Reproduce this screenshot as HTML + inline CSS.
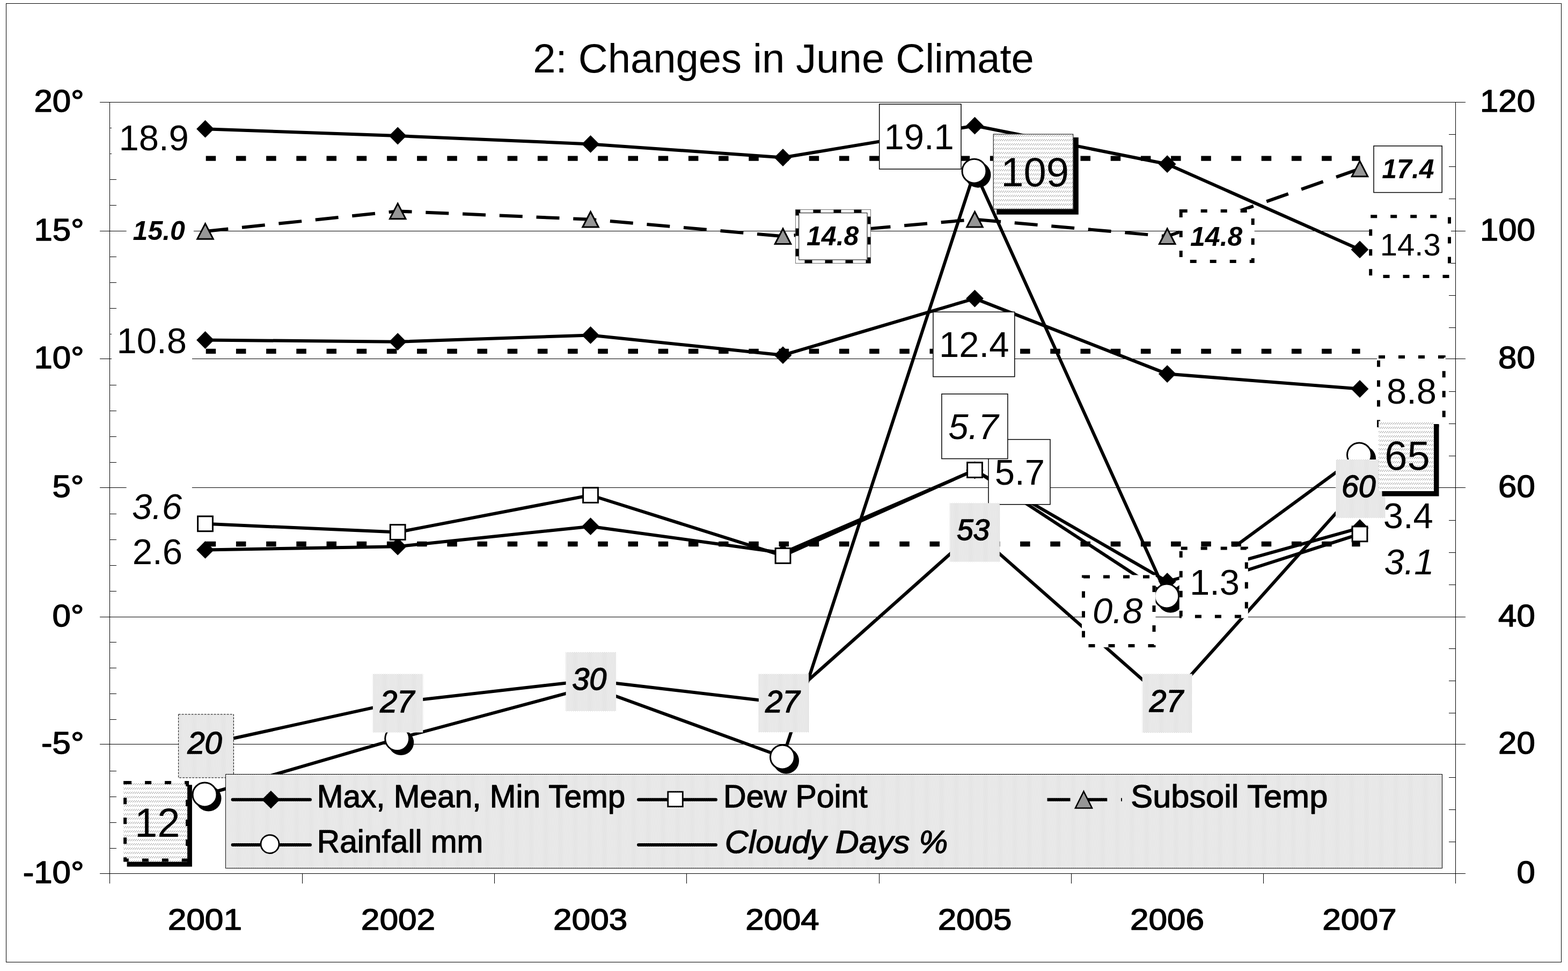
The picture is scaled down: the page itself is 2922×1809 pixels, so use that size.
<!DOCTYPE html>
<html><head><meta charset="utf-8"><title>2: Changes in June Climate</title>
<style>html,body{margin:0;padding:0;background:#fff;}body{width:2922px;height:1809px;overflow:hidden;}svg{display:block;}</style>
</head><body>
<svg xmlns="http://www.w3.org/2000/svg" width="2922" height="1809" viewBox="0 0 2922 1809" font-family="'Liberation Sans', Arial, sans-serif">
<defs>
<pattern id="dots" patternUnits="userSpaceOnUse" x="0" y="0" width="4" height="2"><rect width="4" height="2" fill="#fff"/><rect x="0" y="0" width="1" height="1" fill="#a4a4a4"/><rect x="2" y="1" width="1" height="1" fill="#a4a4a4"/></pattern>
<pattern id="hatch" patternUnits="userSpaceOnUse" x="0" y="0" width="4" height="8"><rect width="4" height="8" fill="#fff"/><rect x="2" y="3" width="1" height="1" fill="#8c8c8c"/><rect x="1" y="4" width="1" height="1" fill="#8c8c8c"/><rect x="0" y="5" width="1" height="1" fill="#8c8c8c"/><rect x="3" y="6" width="1" height="1" fill="#8c8c8c"/></pattern>
</defs>
<rect x="0" y="0" width="2922" height="1809" fill="#fff"/>
<rect x="11.5" y="6.5" width="2898" height="1786" fill="none" stroke="#000" stroke-width="1" shape-rendering="crispEdges"/>
<text x="993.25" y="134.9" font-size="76">2: Changes in June Climate</text>
<g stroke="#000" stroke-width="1" fill="none" shape-rendering="crispEdges">
<line x1="186" y1="190.5" x2="2731" y2="190.5"/>
<line x1="186" y1="430.5" x2="2731" y2="430.5"/>
<line x1="186" y1="668.5" x2="2731" y2="668.5"/>
<line x1="186" y1="908.5" x2="2731" y2="908.5"/>
<line x1="186" y1="1149.5" x2="2731" y2="1149.5"/>
<line x1="186" y1="1386.5" x2="2731" y2="1386.5"/>
<line x1="186" y1="1627.5" x2="2731" y2="1627.5"/>
<line x1="204.5" y1="190.5" x2="204.5" y2="1646"/>
<line x1="2712.5" y1="190.5" x2="2712.5" y2="1646"/>
<line x1="563.5" y1="1627.5" x2="563.5" y2="1646"/>
<line x1="921.5" y1="1627.5" x2="921.5" y2="1646"/>
<line x1="1279.5" y1="1627.5" x2="1279.5" y2="1646"/>
<line x1="1638.5" y1="1627.5" x2="1638.5" y2="1646"/>
<line x1="1996.5" y1="1627.5" x2="1996.5" y2="1646"/>
<line x1="2354.5" y1="1627.5" x2="2354.5" y2="1646"/>
<line x1="204.5" y1="238.5" x2="217" y2="238.5"/>
<line x1="204.5" y1="286.5" x2="217" y2="286.5"/>
<line x1="204.5" y1="334.5" x2="217" y2="334.5"/>
<line x1="204.5" y1="382.5" x2="217" y2="382.5"/>
<line x1="204.5" y1="478.5" x2="217" y2="478.5"/>
<line x1="204.5" y1="526.5" x2="217" y2="526.5"/>
<line x1="204.5" y1="574.5" x2="217" y2="574.5"/>
<line x1="204.5" y1="622.5" x2="217" y2="622.5"/>
<line x1="204.5" y1="717.5" x2="217" y2="717.5"/>
<line x1="204.5" y1="765.5" x2="217" y2="765.5"/>
<line x1="204.5" y1="813.5" x2="217" y2="813.5"/>
<line x1="204.5" y1="861.5" x2="217" y2="861.5"/>
<line x1="204.5" y1="957.5" x2="217" y2="957.5"/>
<line x1="204.5" y1="1005.5" x2="217" y2="1005.5"/>
<line x1="204.5" y1="1053.5" x2="217" y2="1053.5"/>
<line x1="204.5" y1="1101.5" x2="217" y2="1101.5"/>
<line x1="204.5" y1="1196.5" x2="217" y2="1196.5"/>
<line x1="204.5" y1="1244.5" x2="217" y2="1244.5"/>
<line x1="204.5" y1="1292.5" x2="217" y2="1292.5"/>
<line x1="204.5" y1="1340.5" x2="217" y2="1340.5"/>
<line x1="204.5" y1="1436.5" x2="217" y2="1436.5"/>
<line x1="204.5" y1="1484.5" x2="217" y2="1484.5"/>
<line x1="204.5" y1="1532.5" x2="217" y2="1532.5"/>
<line x1="204.5" y1="1580.5" x2="217" y2="1580.5"/>
<line x1="2700" y1="1568.5" x2="2712.5" y2="1568.5"/>
<line x1="2700" y1="1508.5" x2="2712.5" y2="1508.5"/>
<line x1="2700" y1="1448.5" x2="2712.5" y2="1448.5"/>
<line x1="2700" y1="1328.5" x2="2712.5" y2="1328.5"/>
<line x1="2700" y1="1268.5" x2="2712.5" y2="1268.5"/>
<line x1="2700" y1="1208.5" x2="2712.5" y2="1208.5"/>
<line x1="2700" y1="1089.5" x2="2712.5" y2="1089.5"/>
<line x1="2700" y1="1029.5" x2="2712.5" y2="1029.5"/>
<line x1="2700" y1="969.5" x2="2712.5" y2="969.5"/>
<line x1="2700" y1="849.5" x2="2712.5" y2="849.5"/>
<line x1="2700" y1="789.5" x2="2712.5" y2="789.5"/>
<line x1="2700" y1="729.5" x2="2712.5" y2="729.5"/>
<line x1="2700" y1="610.5" x2="2712.5" y2="610.5"/>
<line x1="2700" y1="550.5" x2="2712.5" y2="550.5"/>
<line x1="2700" y1="490.5" x2="2712.5" y2="490.5"/>
<line x1="2700" y1="370.5" x2="2712.5" y2="370.5"/>
<line x1="2700" y1="310.5" x2="2712.5" y2="310.5"/>
<line x1="2700" y1="250.5" x2="2712.5" y2="250.5"/>
</g>
<text transform="translate(63.42,208.05) scale(1.09,1)" font-size="56.61" stroke="#000" stroke-width="1.4" stroke-linejoin="round">20°</text>
<text transform="translate(63.42,448.05) scale(1.09,1)" font-size="56.61" stroke="#000" stroke-width="1.4" stroke-linejoin="round">15°</text>
<text transform="translate(63.42,686.05) scale(1.09,1)" font-size="56.61" stroke="#000" stroke-width="1.4" stroke-linejoin="round">10°</text>
<text transform="translate(97.48,926.05) scale(1.09,1)" font-size="56.61" stroke="#000" stroke-width="1.4" stroke-linejoin="round">5°</text>
<text transform="translate(97.48,1167.05) scale(1.09,1)" font-size="56.61" stroke="#000" stroke-width="1.4" stroke-linejoin="round">0°</text>
<text transform="translate(77.04,1404.05) scale(1.09,1)" font-size="56.61" stroke="#000" stroke-width="1.4" stroke-linejoin="round">-5°</text>
<text transform="translate(42.71,1645.05) scale(1.09,1)" font-size="56.61" stroke="#000" stroke-width="1.4" stroke-linejoin="round">-10°</text>
<text transform="translate(2758.02,208.05) scale(1.09,1)" font-size="56.61" stroke="#000" stroke-width="1.4" stroke-linejoin="round">120</text>
<text transform="translate(2758.02,448.05) scale(1.09,1)" font-size="56.61" stroke="#000" stroke-width="1.4" stroke-linejoin="round">100</text>
<text transform="translate(2792.08,686.05) scale(1.09,1)" font-size="56.61" stroke="#000" stroke-width="1.4" stroke-linejoin="round">80</text>
<text transform="translate(2792.08,926.05) scale(1.09,1)" font-size="56.61" stroke="#000" stroke-width="1.4" stroke-linejoin="round">60</text>
<text transform="translate(2792.08,1167.05) scale(1.09,1)" font-size="56.61" stroke="#000" stroke-width="1.4" stroke-linejoin="round">40</text>
<text transform="translate(2792.08,1404.05) scale(1.09,1)" font-size="56.61" stroke="#000" stroke-width="1.4" stroke-linejoin="round">20</text>
<text transform="translate(2826.42,1645.05) scale(1.09,1)" font-size="56.61" stroke="#000" stroke-width="1.4" stroke-linejoin="round">0</text>
<text transform="translate(672.76,1731.85) scale(1.1156,1)" font-size="55.8" stroke="#000" stroke-width="1.4" stroke-linejoin="round">2002</text>
<text transform="translate(1031.05,1731.85) scale(1.1133,1)" font-size="55.8" stroke="#000" stroke-width="1.4" stroke-linejoin="round">2003</text>
<text transform="translate(1389.36,1731.85) scale(1.1063,1)" font-size="55.8" stroke="#000" stroke-width="1.4" stroke-linejoin="round">2004</text>
<text transform="translate(1747.63,1731.85) scale(1.1109,1)" font-size="55.8" stroke="#000" stroke-width="1.4" stroke-linejoin="round">2005</text>
<text transform="translate(2105.91,1731.85) scale(1.1133,1)" font-size="55.8" stroke="#000" stroke-width="1.4" stroke-linejoin="round">2006</text>
<text transform="translate(2464.19,1731.85) scale(1.1156,1)" font-size="55.8" stroke="#000" stroke-width="1.4" stroke-linejoin="round">2007</text>
<text transform="translate(312.63,1731.85) scale(1.1156,1)" font-size="55.8" stroke="#000" stroke-width="1.4" stroke-linejoin="round">2001</text>
<g stroke="#000" stroke-width="9.3" fill="none" stroke-dasharray="18.5 37.7">
<line x1="383.7" y1="295.2" x2="2534.6" y2="295.2"/>
<line x1="383.7" y1="654.4" x2="2534.6" y2="654.4"/>
<line x1="383.7" y1="1013.5" x2="2534.6" y2="1013.5"/>
</g>
<g fill="none" stroke="#000" stroke-width="6" stroke-linejoin="round">
<polyline points="382.5,240.2 741.2,253.0 1100.5,268.4 1459.0,293.5 1816.5,234.2 2175.2,305.7 2534.0,464.9"/>
<polyline points="382.5,633.5 741.2,636.7 1100.5,624.4 1459.0,661.7 1816.5,556.1 2175.2,696.6 2534.0,724.5"/>
<polyline points="382.5,1024.4 741.2,1018.2 1100.5,980.7 1459.0,1030.0 1816.5,876.0 2175.2,1083.4 2534.0,983.7"/>
</g>
<polygon points="382.5,223.79999999999998 398.9,240.2 382.5,256.59999999999997 366.1,240.2" fill="#000"/>
<polygon points="741.2,236.6 757.6,253.0 741.2,269.4 724.8000000000001,253.0" fill="#000"/>
<polygon points="1100.5,251.99999999999997 1116.9,268.4 1100.5,284.79999999999995 1084.1,268.4" fill="#000"/>
<polygon points="1459.0,277.1 1475.4,293.5 1459.0,309.9 1442.6,293.5" fill="#000"/>
<polygon points="1816.5,217.79999999999998 1832.9,234.2 1816.5,250.6 1800.1,234.2" fill="#000"/>
<polygon points="2175.2,289.3 2191.6,305.7 2175.2,322.09999999999997 2158.7999999999997,305.7" fill="#000"/>
<polygon points="2534.0,448.5 2550.4,464.9 2534.0,481.29999999999995 2517.6,464.9" fill="#000"/>
<polygon points="382.5,617.1 398.9,633.5 382.5,649.9 366.1,633.5" fill="#000"/>
<polygon points="741.2,620.3000000000001 757.6,636.7 741.2,653.1 724.8000000000001,636.7" fill="#000"/>
<polygon points="1100.5,608.0 1116.9,624.4 1100.5,640.8 1084.1,624.4" fill="#000"/>
<polygon points="1459.0,645.3000000000001 1475.4,661.7 1459.0,678.1 1442.6,661.7" fill="#000"/>
<polygon points="1816.5,539.7 1832.9,556.1 1816.5,572.5 1800.1,556.1" fill="#000"/>
<polygon points="2175.2,680.2 2191.6,696.6 2175.2,713.0 2158.7999999999997,696.6" fill="#000"/>
<polygon points="2534.0,708.1 2550.4,724.5 2534.0,740.9 2517.6,724.5" fill="#000"/>
<polygon points="382.5,1008.0000000000001 398.9,1024.4 382.5,1040.8000000000002 366.1,1024.4" fill="#000"/>
<polygon points="741.2,1001.8000000000001 757.6,1018.2 741.2,1034.6000000000001 724.8000000000001,1018.2" fill="#000"/>
<polygon points="1100.5,964.3000000000001 1116.9,980.7 1100.5,997.1 1084.1,980.7" fill="#000"/>
<polygon points="1459.0,1013.6 1475.4,1030.0 1459.0,1046.4 1442.6,1030.0" fill="#000"/>
<polygon points="1816.5,859.6 1832.9,876.0 1816.5,892.4 1800.1,876.0" fill="#000"/>
<polygon points="2175.2,1067.0 2191.6,1083.4 2175.2,1099.8000000000002 2158.7999999999997,1083.4" fill="#000"/>
<polygon points="2534.0,967.3000000000001 2550.4,983.7 2534.0,1000.1 2517.6,983.7" fill="#000"/>
<polyline points="382.5,975.8 741.2,991.5 1100.5,922.5 1459.0,1035.4 1816.5,875.6 2175.2,1110.0 2534.0,994.8" fill="none" stroke="#000" stroke-width="6" stroke-linejoin="round"/>
<rect x="368.6" y="961.9" width="27.8" height="27.8" fill="#fff" stroke="#000" stroke-width="3"/>
<rect x="727.3000000000001" y="977.6" width="27.8" height="27.8" fill="#fff" stroke="#000" stroke-width="3"/>
<rect x="1086.6" y="908.6" width="27.8" height="27.8" fill="#fff" stroke="#000" stroke-width="3"/>
<rect x="1445.1" y="1021.5000000000001" width="27.8" height="27.8" fill="#fff" stroke="#000" stroke-width="3"/>
<rect x="1802.6" y="861.7" width="27.8" height="27.8" fill="#fff" stroke="#000" stroke-width="3"/>
<rect x="2161.2999999999997" y="1096.1" width="27.8" height="27.8" fill="#fff" stroke="#000" stroke-width="3"/>
<rect x="2520.1" y="980.9" width="27.8" height="27.8" fill="#fff" stroke="#000" stroke-width="3"/>
<polyline points="382.5,430.9 741.2,393.4 1100.5,408.8 1459.0,440.3 1816.5,408.7 2175.2,440.3 2534.0,314.4" fill="none" stroke="#000" stroke-width="6" stroke-dasharray="43 25.8"/>
<polygon points="382.5,416.65 397.25,445.15 367.75,445.15" fill="#969696" stroke="#000" stroke-width="3" stroke-linejoin="miter" stroke-miterlimit="3"/>
<polygon points="741.2,379.15 755.95,407.65 726.45,407.65" fill="#969696" stroke="#000" stroke-width="3" stroke-linejoin="miter" stroke-miterlimit="3"/>
<polygon points="1100.5,394.55 1115.25,423.05 1085.75,423.05" fill="#969696" stroke="#000" stroke-width="3" stroke-linejoin="miter" stroke-miterlimit="3"/>
<polygon points="1459.0,426.05 1473.75,454.55 1444.25,454.55" fill="#969696" stroke="#000" stroke-width="3" stroke-linejoin="miter" stroke-miterlimit="3"/>
<polygon points="1816.5,394.45 1831.25,422.95 1801.75,422.95" fill="#969696" stroke="#000" stroke-width="3" stroke-linejoin="miter" stroke-miterlimit="3"/>
<polygon points="2175.2,426.05 2189.95,454.55 2160.45,454.55" fill="#969696" stroke="#000" stroke-width="3" stroke-linejoin="miter" stroke-miterlimit="3"/>
<polygon points="2534.0,300.15 2548.75,328.65 2519.25,328.65" fill="#969696" stroke="#000" stroke-width="3" stroke-linejoin="miter" stroke-miterlimit="3"/>
<polyline points="382.5,1387.0 741.2,1308.4 1100.5,1267.4 1459.0,1309.5 1816.5,991.1 2175.2,1306.8 2534.0,906.4" fill="none" stroke="#000" stroke-width="6" stroke-linejoin="round"/>
<polyline points="382.5,1480.5 741.2,1376.1 1100.5,1279.7 1459.0,1410.5 1816.5,318.7 2175.2,1110.5 2534.0,847.5" fill="none" stroke="#000" stroke-width="6" stroke-linejoin="round"/>
<circle cx="388.5" cy="1487.5" r="24.0" fill="#000"/><circle cx="381.5" cy="1480.5" r="22.5" fill="#fff" stroke="#000" stroke-width="3"/>
<circle cx="747.2" cy="1383.1" r="24.0" fill="#000"/><circle cx="740.2" cy="1376.1" r="22.5" fill="#fff" stroke="#000" stroke-width="3"/>
<circle cx="1106.5" cy="1286.7" r="24.0" fill="#000"/><circle cx="1099.5" cy="1279.7" r="22.5" fill="#fff" stroke="#000" stroke-width="3"/>
<circle cx="1465.0" cy="1417.5" r="24.0" fill="#000"/><circle cx="1458.0" cy="1410.5" r="22.5" fill="#fff" stroke="#000" stroke-width="3"/>
<circle cx="1822.5" cy="325.7" r="24.0" fill="#000"/><circle cx="1815.5" cy="318.7" r="22.5" fill="#fff" stroke="#000" stroke-width="3"/>
<circle cx="2181.2" cy="1117.5" r="24.0" fill="#000"/><circle cx="2174.2" cy="1110.5" r="22.5" fill="#fff" stroke="#000" stroke-width="3"/>
<circle cx="2540.0" cy="854.5" r="24.0" fill="#000"/><circle cx="2533.0" cy="847.5" r="22.5" fill="#fff" stroke="#000" stroke-width="3"/>
<rect x="208" y="215" width="154" height="84" fill="#fff" stroke="none"/>
<text x="221.42" y="280.0" font-size="67">18.9</text>
<rect x="1638.7" y="194.0" width="152.3" height="121.0" fill="#fff" stroke="#000" stroke-width="1.5"/>
<text x="1647.38" y="277.5" font-size="67">19.1</text>
<rect x="2551.2" y="400.2" width="152.8" height="117.7" fill="#fff" stroke="none"/>
<rect x="2554.2" y="403.2" width="146.8" height="111.7" fill="none" stroke="#000" stroke-width="6" stroke-dasharray="12 25"/>
<text x="2571.85" y="476.4" font-size="58">14.3</text>
<rect x="208" y="593" width="150" height="85" fill="#fff" stroke="none"/>
<text x="217.6" y="658.45" font-size="67">10.8</text>
<rect x="1738.9" y="581.2" width="151.9" height="120.6" fill="#fff" stroke="#000" stroke-width="1.5"/>
<text x="1750.1" y="664.82" font-size="67">12.4</text>
<rect x="2566.0" y="662.0" width="127.7" height="134.0" fill="#fff" stroke="none"/>
<rect x="2569.0" y="665.0" width="121.7" height="128.0" fill="none" stroke="#000" stroke-width="6" stroke-dasharray="12 25"/>
<text x="2583.98" y="752.15" font-size="67">8.8</text>
<rect x="235" y="986" width="117" height="85" fill="#fff" stroke="none"/>
<text x="246.8" y="1051.45" font-size="67">2.6</text>
<rect x="1842.0" y="818.7" width="115.0" height="121.1" fill="#fff" stroke="#000" stroke-width="1.5"/>
<text x="1853.78" y="902.88" font-size="67">5.7</text>
<rect x="2197.7" y="1018.6" width="128.1" height="133.0" fill="#fff" stroke="none"/>
<rect x="2200.7" y="1021.6" width="122.1" height="127.0" fill="none" stroke="#000" stroke-width="6" stroke-dasharray="12 25"/>
<text x="2216.88" y="1108.3" font-size="67">1.3</text>
<rect x="2566" y="919" width="117" height="84" fill="#fff" stroke="none"/>
<text x="2577.68" y="983.75" font-size="67">3.4</text>
<rect x="235.6" y="902" width="122.3" height="84" fill="#fff" stroke="none"/>
<text x="245.98" y="967.1" font-size="67" font-style="italic">3.6</text>
<rect x="1754.9" y="734.0" width="123.0" height="120.6" fill="#fff" stroke="#000" stroke-width="1.5"/>
<text x="1767.28" y="817.88" font-size="67" font-style="italic">5.7</text>
<rect x="2016.0" y="1071.4" width="137.5" height="134.5" fill="#fff" stroke="none"/>
<rect x="2019.0" y="1074.4" width="131.5" height="128.5" fill="none" stroke="#000" stroke-width="6" stroke-dasharray="12 25"/>
<text x="2036.12" y="1161.4" font-size="67" font-style="italic">0.8</text>
<rect x="2566" y="1005" width="118" height="84" fill="#fff" stroke="none"/>
<text x="2579.45" y="1070.0" font-size="67" font-style="italic">3.1</text>
<rect x="235.6" y="400" width="125.3" height="60" fill="#fff" stroke="none"/>
<text x="247.6" y="447.1" font-size="50" font-weight="bold" font-style="italic">15.0</text>
<rect x="1482.6" y="390.7" width="139.7" height="99.5" fill="#fff" stroke="#000" stroke-width="1"/>
<rect x="1485.4" y="393.5" width="134.1" height="93.9" fill="none" stroke="#fff" stroke-width="5.6"/>
<rect x="1485.4" y="393.5" width="134.1" height="93.9" fill="none" stroke="#000" stroke-width="5.6" stroke-dasharray="14 24" stroke-dashoffset="8"/>
<rect x="1488.7" y="396.7" width="127.3" height="87.3" fill="none" stroke="#000" stroke-width="1"/>
<text x="1503.05" y="457.3" font-size="50" font-weight="bold" font-style="italic">14.8</text>
<rect x="2197.7" y="390.0" width="140.0" height="100.0" fill="#fff" stroke="none"/>
<rect x="2200.7" y="393.0" width="134.0" height="94.0" fill="none" stroke="#000" stroke-width="6" stroke-dasharray="12 25"/>
<text x="2218.05" y="457.55" font-size="50" font-weight="bold" font-style="italic">14.8</text>
<rect x="2560.0" y="271.9" width="127.2" height="86.7" fill="#fff" stroke="#000" stroke-width="1.5"/>
<text x="2575.28" y="332.25" font-size="50" font-weight="bold" font-style="italic">17.4</text>
<rect x="332.6" y="1330.8" width="102.7" height="118.1" fill="url(#dots)" stroke="#000" stroke-width="1" stroke-dasharray="4 2"/>
<text x="349.4" y="1404.08" font-size="57.8" font-style="italic" stroke="#000" stroke-width="1.5" stroke-linejoin="round">20</text>
<rect x="694.8" y="1255.6" width="93.4" height="109.0" fill="url(#dots)" stroke="none"/>
<text x="708.15" y="1326.57" font-size="57.5" font-style="italic" stroke="#000" stroke-width="1.5" stroke-linejoin="round">27</text>
<rect x="1054.5" y="1215.1" width="93.6" height="109.8" fill="url(#dots)" stroke="none"/>
<text x="1066.3" y="1284.88" font-size="57.52" font-style="italic" stroke="#000" stroke-width="1.5" stroke-linejoin="round">30</text>
<rect x="1413.8" y="1255.6" width="93.3" height="108.6" fill="url(#dots)" stroke="none"/>
<text x="1426.2" y="1326.57" font-size="57.5" font-style="italic" stroke="#000" stroke-width="1.5" stroke-linejoin="round">27</text>
<rect x="1770.3" y="937.3" width="92.6" height="109.3" fill="url(#dots)" stroke="none"/>
<text x="1782.93" y="1006.05" font-size="55.11" font-style="italic" stroke="#000" stroke-width="1.5" stroke-linejoin="round">53</text>
<rect x="2128.7" y="1255.5" width="93.1" height="109.7" fill="url(#dots)" stroke="none"/>
<text x="2141.7" y="1326.32" font-size="56.93" font-style="italic" stroke="#000" stroke-width="1.5" stroke-linejoin="round">27</text>
<rect x="2489.0" y="856.0" width="92.7" height="108.9" fill="url(#dots)" stroke="none"/>
<text x="2499.98" y="925.75" font-size="57.23" font-style="italic" stroke="#000" stroke-width="1.5" stroke-linejoin="round">60</text>
<rect x="236.6" y="1462.2" width="121.3" height="152.4" fill="#000" stroke="none"/>
<rect x="230.1" y="1454.9" width="119.0" height="150.7" fill="url(#hatch)" stroke="none"/>
<rect x="233.1" y="1457.9" width="116.0" height="144.7" fill="none" stroke="#000" stroke-width="6" stroke-dasharray="12 25"/>
<text x="251.0" y="1559.45" font-size="76">12</text>
<rect x="1857.2" y="256.0" width="152.6" height="143.7" fill="#000" stroke="none"/>
<rect x="1850.7" y="249.5" width="149.6" height="140.7" fill="url(#hatch)" stroke="none"/>
<rect x="1851.2" y="250.0" width="148.6" height="139.7" fill="none" stroke="#000" stroke-width="1"/>
<text x="1865.15" y="347.22" font-size="76">109</text>
<rect x="2575.5" y="791.0" width="106.0" height="133.5" fill="#000" stroke="none"/>
<rect x="2569.0" y="784.5" width="103.0" height="130.5" fill="url(#hatch)" stroke="none"/>
<text x="2580.3" y="874.62" font-size="76">65</text>
<rect x="420.5" y="1442.5" width="2267.0" height="175.0" fill="url(#dots)" stroke="#000" stroke-width="1" shape-rendering="crispEdges"/>
<g stroke="#000" stroke-width="6" fill="none" stroke-linecap="round">
<line x1="433.6" y1="1489.7" x2="578" y2="1489.7"/>
<line x1="433.6" y1="1574.0" x2="578" y2="1574.0"/>
<line x1="1190" y1="1489.7" x2="1334" y2="1489.7"/>
<line x1="1190" y1="1574.0" x2="1334" y2="1574.0"/>
<line x1="1951.5" y1="1489.7" x2="2091" y2="1489.7" stroke-dasharray="43 25.8" stroke-linecap="butt"/>
</g>
<polygon points="504.8,1472.9 521.6,1489.7 504.8,1506.5 488.0,1489.7" fill="#000"/>
<circle cx="503" cy="1572.6" r="17" fill="#fff" stroke="#000" stroke-width="2.8"/>
<rect x="1244.75" y="1475.15" width="27.5" height="27.5" fill="#fff" stroke="#000" stroke-width="2.8"/>
<polygon points="2019.5,1474.5 2035.0,1505.5 2004.0,1505.5" fill="#969696" stroke="#000" stroke-width="2.6" stroke-linejoin="miter" stroke-miterlimit="3"/>
<text transform="translate(590.82,1503.8) scale(0.9752,1)" font-size="60" stroke="#000" stroke-width="1.3" stroke-linejoin="round">Max, Mean, Min Temp</text>
<text transform="translate(1348.09,1503.9) scale(0.9826,1)" font-size="60" stroke="#000" stroke-width="1.3" stroke-linejoin="round">Dew Point</text>
<text transform="translate(2107.29,1503.5) scale(1.0223,1)" font-size="60" stroke="#000" stroke-width="1.3" stroke-linejoin="round">Subsoil Temp</text>
<text transform="translate(590.81,1588.2) scale(0.9779,1)" font-size="60" stroke="#000" stroke-width="1.3" stroke-linejoin="round">Rainfall mm</text>
<text transform="translate(1350.81,1589.0) scale(1.0129,1)" font-size="60" font-style="italic" stroke="#000" stroke-width="1.3" stroke-linejoin="round">Cloudy Days %</text>
</svg>
</body></html>
